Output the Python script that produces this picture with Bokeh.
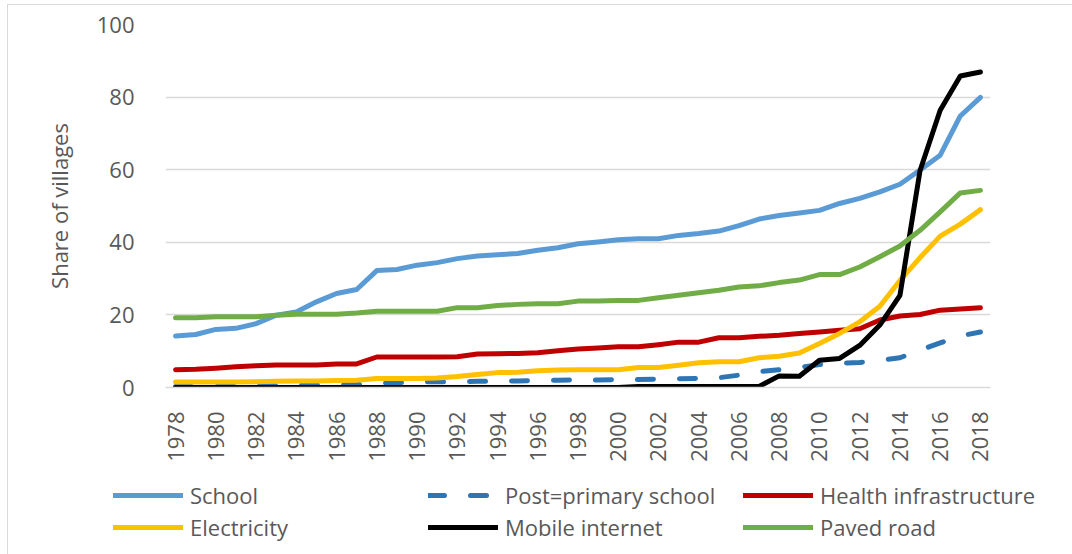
import math
from bokeh.plotting import figure
from bokeh.layouts import column
from bokeh.models import Legend, LegendItem, Range1d, FixedTicker, InlineStyleSheet
from bokeh.embed import file_html
from bokeh.resources import INLINE

# Survey years
years = list(range(1978, 2019))

# Share of villages (%) with each facility, by year
school = [14.2, 14.6, 16.0, 16.3, 17.6, 19.9, 20.8, 23.6, 25.9, 27.0,
          32.2, 32.5, 33.7, 34.4, 35.5, 36.2, 36.6, 36.9, 37.8, 38.5,
          39.6, 40.1, 40.7, 41.0, 41.0, 41.9, 42.4, 43.1, 44.6, 46.4,
          47.4, 48.1, 48.8, 50.7, 52.1, 53.9, 56.0, 59.9, 64.0, 74.8, 79.9]
post_primary = [0.3, 0.3, 0.4, 0.4, 0.5, 0.5, 0.6, 0.6, 0.7, 0.8,
                1.2, 1.3, 1.5, 1.6, 1.6, 1.7, 1.7, 1.8, 1.9, 2.0,
                2.1, 2.1, 2.2, 2.2, 2.3, 2.4, 2.5, 2.7, 3.4, 4.4,
                4.9, 5.5, 6.3, 6.7, 6.9, 7.5, 8.2, 10.3, 12.3, 14.2, 15.3]
health = [4.9, 5.0, 5.3, 5.7, 6.0, 6.2, 6.2, 6.2, 6.5, 6.5,
          8.4, 8.4, 8.4, 8.4, 8.5, 9.2, 9.3, 9.4, 9.6, 10.1,
          10.6, 10.9, 11.2, 11.2, 11.8, 12.5, 12.5, 13.7, 13.7, 14.1,
          14.4, 14.9, 15.3, 15.8, 16.2, 18.6, 19.7, 20.1, 21.3, 21.6, 22.0]
electricity = [1.5, 1.5, 1.5, 1.5, 1.6, 1.7, 1.8, 1.8, 1.9, 2.0,
               2.5, 2.5, 2.5, 2.6, 3.0, 3.6, 4.1, 4.2, 4.6, 4.8,
               4.9, 4.9, 4.9, 5.5, 5.5, 6.1, 6.8, 7.1, 7.1, 8.2,
               8.6, 9.5, 12.1, 14.9, 18.1, 22.4, 29.5, 35.8, 41.7, 45.0, 49.0]
mobile_internet = [0.0, 0.0, 0.0, 0.0, 0.0, 0.0, 0.0, 0.0, 0.0, 0.0,
                   0.0, 0.0, 0.0, 0.0, 0.0, 0.0, 0.0, 0.0, 0.0, 0.0,
                   0.0, 0.0, 0.0, 0.3, 0.3, 0.3, 0.3, 0.3, 0.3, 0.3,
                   3.2, 3.1, 7.5, 8.0, 11.6, 17.2, 25.4, 59.8, 76.4, 85.8, 86.9]
paved_road = [19.2, 19.2, 19.5, 19.5, 19.5, 19.9, 20.2, 20.2, 20.2, 20.5,
              21.0, 21.0, 21.0, 21.0, 22.0, 22.0, 22.6, 22.9, 23.1, 23.1,
              23.8, 23.8, 24.0, 24.0, 24.7, 25.4, 26.1, 26.8, 27.7, 28.0,
              28.9, 29.6, 31.1, 31.1, 33.2, 36.0, 39.0, 43.3, 48.4, 53.6, 54.3]

series_names = ["School", "Post=primary school", "Health infrastructure",
                "Electricity", "Mobile internet", "Paved road"]
y_ticks = [0, 20, 40, 60, 80, 100]
x_ticks = years[::2]

FONT = "Open Sans"
TEXT = "#595959"
GRID = "#D9D9D9"

# ---- main chart ----
p = figure(width=1072, height=470, output_backend="svg", toolbar_location=None,
           x_range=Range1d(1977.5, 2018.5), y_range=Range1d(0, 100),
           min_border_left=165, min_border_right=82,
           min_border_top=24, min_border_bottom=83,
           background_fill_color="white", border_fill_color="white")
p.outline_line_color = None

# horizontal gridlines only
p.xgrid.grid_line_color = None
p.ygrid.grid_line_color = GRID
p.ygrid.grid_line_width = 1.3
p.ygrid.ticker = FixedTicker(ticks=y_ticks)

p.yaxis.ticker = FixedTicker(ticks=y_ticks)
p.yaxis.axis_line_color = None
p.yaxis.major_tick_line_color = None
p.yaxis.minor_tick_line_color = None
p.yaxis.major_label_text_font = FONT
p.yaxis.major_label_text_font_size = "22px"
p.yaxis.major_label_text_color = TEXT
p.yaxis.major_label_standoff = 25
p.yaxis.axis_label = "Share of villages"
p.yaxis.axis_label_text_font = FONT
p.yaxis.axis_label_text_font_size = "22px"
p.yaxis.axis_label_text_font_style = "normal"
p.yaxis.axis_label_text_color = TEXT
p.yaxis.axis_label_standoff = 20

p.xaxis.ticker = FixedTicker(ticks=x_ticks)
p.xaxis.axis_line_color = GRID
p.xaxis.axis_line_width = 1.3
p.xaxis.major_tick_line_color = None
p.xaxis.minor_tick_line_color = None
p.xaxis.major_label_orientation = math.pi / 2
p.xaxis.major_label_text_font = FONT
p.xaxis.major_label_text_font_size = "22px"
p.xaxis.major_label_text_color = TEXT
p.xaxis.major_label_standoff = 18

series = [school, post_primary, health, electricity, mobile_internet, paved_road]
styles = [
    ("#5B9BD5", "solid"),
    ("#2E75B6", "16 26"),
    ("#C00000", "solid"),
    ("#FFC000", "solid"),
    ("#000000", "solid"),
    ("#70AD47", "solid"),
]
for vals, (color, dash) in zip(series, styles):
    p.line(years, vals, line_color=color, line_width=5, line_dash=dash,
           line_cap="round", line_join="round")

# ---- legend strip underneath ----
lg = figure(width=1072, height=84, output_backend="svg", toolbar_location=None,
            x_range=Range1d(0, 1), y_range=Range1d(0, 1),
            min_border=0, x_axis_location=None, y_axis_location=None,
            background_fill_color="white", border_fill_color="white")
lg.outline_line_color = None
lg.grid.visible = False
if hasattr(lg, "frame_align"):
    lg.frame_align = False

# same series styles; the data lies outside this strip's ranges, so only the
# legend swatches show
samples = []
for vals, (color, dash) in zip(series, styles):
    samples.append(lg.line(years, vals, line_color=color, line_width=5, line_dash=dash,
                           line_cap="round", line_join="round"))

items = [LegendItem(label=name, renderers=[r]) for name, r in zip(series_names, samples)]
legend = Legend(items=items, location=(113, 12), orientation="horizontal", ncols=3,
                glyph_width=70, glyph_height=24, label_height=24, label_width=236,
                spacing=2, label_standoff=7, padding=0, margin=0,
                border_line_color=None, background_fill_alpha=0,
                label_text_font=FONT, label_text_font_size="22px",
                label_text_color=TEXT)
lg.add_layout(legend, "center")

# light frame on the left and top edges of the chart area
frame_css = InlineStyleSheet(css="""
:host::after {
  content: ""; position: absolute; left: 7px; top: 4px; right: 0; bottom: 0;
  border-left: 1.5px solid #D9D9D9; border-top: 1.5px solid #D9D9D9;
  pointer-events: none;
}
""")

layout = column(p, lg, spacing=0, stylesheets=[frame_css])

open("out.html", "w").write(file_html(layout, INLINE))
